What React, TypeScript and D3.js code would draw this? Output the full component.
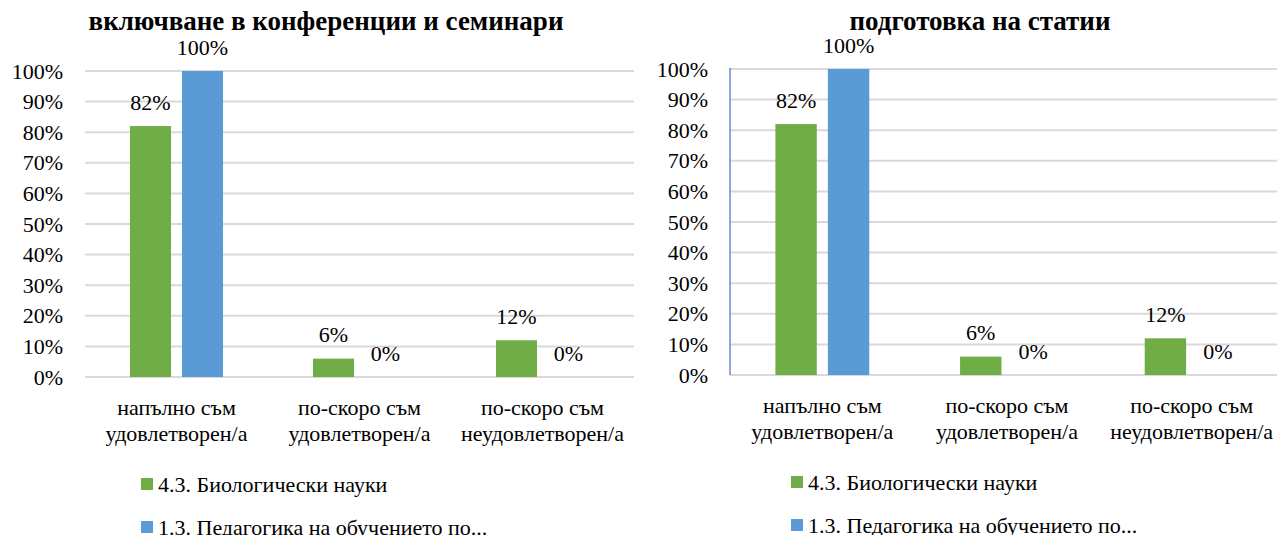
import React from "react";
import * as d3 from "d3";

const categories: string[][] = [
  ["напълно съм", "удовлетворен/а"],
  ["по-скоро съм", "удовлетворен/а"],
  ["по-скоро съм", "неудовлетворен/а"],
];
const seriesNames = ["4.3. Биологически науки", "1.3. Педагогика на обучението по..."];
const seriesColors = ["#70ad47", "#5b9bd5"];
const bioValues = [0.82, 0.06, 0.12];
const pedValues = [1.0, 0.0, 0.0];
const yTicks = [0, 0.1, 0.2, 0.3, 0.4, 0.5, 0.6, 0.7, 0.8, 0.9, 1.0];
const titles = ["включване в конференции и семинари", "подготовка на статии"];

type ChartProps = {
  title: string;
  left: number;
  right: number;
  top: number;
  bottom: number;
  titleX: number;
  legendX: number;
  legendY: number;
  catY: number;
  axisLine: boolean;
};

const FS = 22;
const TS = { fontFamily: "Liberation Serif" };
const TSB = { fontFamily: "Liberation Serif", fontWeight: 700 };

function Chart(p: ChartProps) {
  const x0 = d3.scaleBand<number>().domain([0, 1, 2]).range([p.left, p.right]).paddingInner(0).paddingOuter(0);
  const x1 = d3.scaleBand<number>().domain([0, 1]).range([0, x0.bandwidth()]).paddingInner(0.2115).paddingOuter(0.865);
  const y = d3.scaleLinear().domain([0, 1]).range([p.bottom, p.top]);
  const pct = d3.format(".0%");
  const series = [bioValues, pedValues];
  return (
    <g>
      <text x={p.titleX} y={30} textAnchor="middle" fontSize={27} style={TSB}>{p.title}</text>
      {yTicks.map((t) => (
        <g key={t}>
          <line x1={p.left} x2={p.right} y1={y(t)} y2={y(t)} stroke="#d9d9d9" strokeWidth={2} />
          <text x={p.left - 22} y={y(t) + 7.5} textAnchor="end" fontSize={FS} style={TS}>{pct(t)}</text>
        </g>
      ))}
      {p.axisLine && <line x1={p.left} x2={p.left} y1={y(1) - 1} y2={y(0)} stroke="#4472c4" strokeWidth={1.2} />}
      {series.map((vals, si) =>
        vals.map((v, ci) => {
          const bx = (x0(ci) as number) + (x1(si) as number);
          return (
            <g key={`${si}-${ci}`}>
              {v > 0 && (
                <rect x={bx} y={y(v)} width={x1.bandwidth()} height={y(0) - y(v)} fill={seriesColors[si]} />
              )}
              <text x={bx + x1.bandwidth() / 2} y={y(v) - 16.5} textAnchor="middle" fontSize={FS} style={TS}>{pct(v)}</text>
            </g>
          );
        })
      )}
      {categories.map((lines, ci) => (
        <g key={ci}>
          {lines.map((l, li) => (
            <text key={li} x={(x0(ci) as number) + x0.bandwidth() / 2} y={p.catY + li * 25.5} textAnchor="middle" fontSize={FS} style={TS}>{l}</text>
          ))}
        </g>
      ))}
      {seriesNames.map((n, si) => (
        <g key={n}>
          <rect x={p.legendX} y={p.legendY + si * 43 - 6} width={12} height={12} fill={seriesColors[si]} />
          <text x={p.legendX + 17} y={p.legendY + si * 43 + 7.5} fontSize={FS} style={TS}>{n}</text>
        </g>
      ))}
    </g>
  );
}

export default function App() {
  return (
    <svg width={1285} height={535}>
      <g transform="translate(-8,-8)">
        <Chart title={titles[0]} left={85} right={634} top={71} bottom={377} titleX={326} legendX={141} legendY={484} catY={415} axisLine={false} />
        <Chart title={titles[1]} left={730} right={1284} top={69} bottom={375} titleX={980} legendX={791} legendY={482} catY={413} axisLine={true} />
      </g>
    </svg>
  );
}
